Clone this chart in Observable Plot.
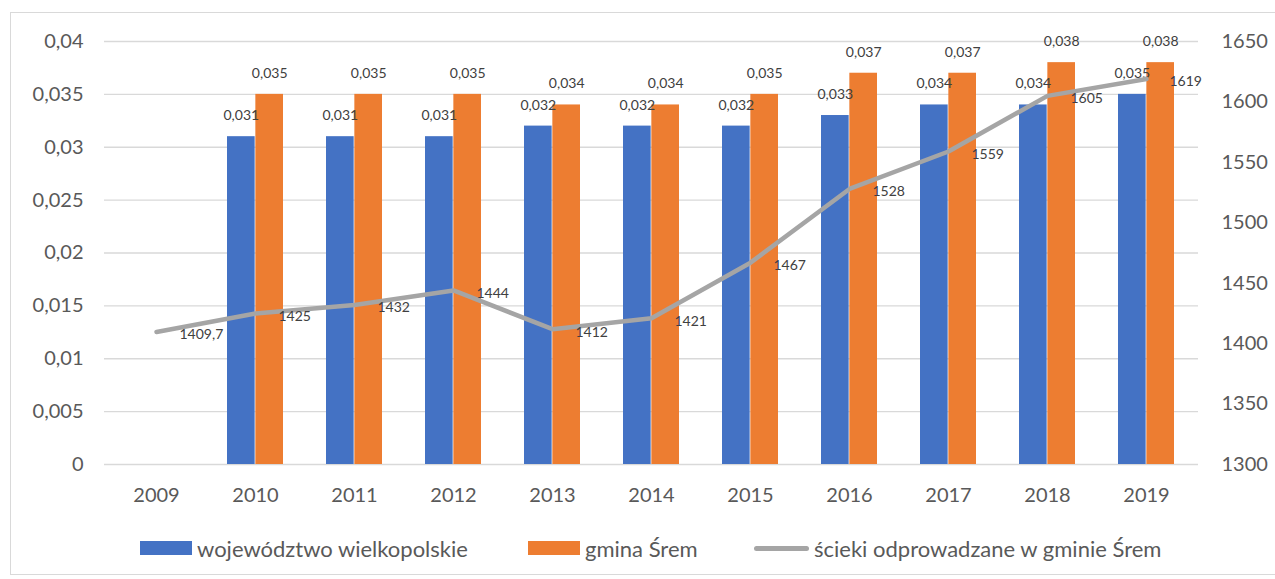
<!DOCTYPE html>
<html>
<head>
<meta charset="utf-8">
<script src="https://cdn.jsdelivr.net/npm/d3@7"></script>
<script src="https://cdn.jsdelivr.net/npm/@observablehq/plot@0.6"></script>
<style>
  html, body { margin: 0; padding: 0; background: #fff; }
  #wrap { position: relative; width: 1275px; height: 579px; overflow: hidden; font-family: Lato, "Open Sans", sans-serif; }
  #frame { position: absolute; left: 10px; top: 12px; width: 1270px; height: 563px; border: 1px solid #d9d9d9; box-sizing: border-box; }
  #chart { position: absolute; left: 0; top: 0; }
  .leg { position: absolute; top: 535px; height: 26px; display: flex; align-items: center; font-size: 22px; color: #595959; white-space: nowrap; }
  .sw { display: inline-block; margin-right: 5px; }
</style>
</head>
<body>
<div id="wrap">
  <div id="frame"></div>
  <div id="chart"></div>
  <div class="leg" style="left:140px"><span class="sw" style="width:52px;height:14px;background:#4472c4"></span>województwo wielkopolskie</div>
  <div class="leg" style="left:528px"><span class="sw" style="width:52px;height:14px;background:#ed7d31"></span>gmina Śrem</div>
  <div class="leg" style="left:754px"><span class="sw" style="width:55px;height:5px;border-radius:3px;background:#a5a5a5"></span>ścieki odprowadzane w gminie Śrem</div>
</div>
<script>
const years = ["2009","2010","2011","2012","2013","2014","2015","2016","2017","2018","2019"];
const wojewodztwo = [null, 0.031, 0.031, 0.031, 0.032, 0.032, 0.032, 0.033, 0.034, 0.034, 0.035];
const gminaSrem = [null, 0.035, 0.035, 0.035, 0.034, 0.034, 0.035, 0.037, 0.037, 0.038, 0.038];
const scieki = [1409.7, 1425, 1432, 1444, 1412, 1421, 1467, 1528, 1559, 1605, 1619];
const leftTicks = [0, 0.005, 0.01, 0.015, 0.02, 0.025, 0.03, 0.035, 0.04];
const rightTicks = [1300, 1350, 1400, 1450, 1500, 1550, 1600, 1650];

const leftDomain = [0, 0.04];
const rightDomain = [1300, 1650];
const toLeft = v => leftDomain[0] + (v - rightDomain[0]) / (rightDomain[1] - rightDomain[0]) * (leftDomain[1] - leftDomain[0]);
const fromLeft = v => rightDomain[0] + (v - leftDomain[0]) / (leftDomain[1] - leftDomain[0]) * (rightDomain[1] - rightDomain[0]);
const fmt = v => String(v).replace(".", ",");

const barsWoj = years.map((y, i) => ({year: y, value: wojewodztwo[i]})).filter(d => d.value != null);
const barsSrem = years.map((y, i) => ({year: y, value: gminaSrem[i]})).filter(d => d.value != null);
const lineData = years.map((y, i) => ({year: y, raw: scieki[i], value: toLeft(scieki[i])}));

const half = 99.45 * 0.57 / 2;

const chart = Plot.plot({
  width: 1275,
  height: 520,
  marginLeft: 104,
  marginRight: 77,
  marginTop: 41,
  marginBottom: 56,
  style: {fontFamily: "Lato, 'Open Sans', sans-serif", fontSize: "20px", color: "#595959", background: "transparent", overflow: "visible"},
  x: {domain: years, paddingInner: 0.43, paddingOuter: 0.215, label: null},
  y: {domain: leftDomain, label: null},
  marks: [
    Plot.gridY(leftTicks, {stroke: "#d9d9d9", strokeOpacity: 1, strokeWidth: 1.3}),
    Plot.axisY(leftTicks, {anchor: "left", tickSize: 0, tickPadding: 21, tickFormat: fmt, fontSize: 20, fill: "#595959", label: null}),
    Plot.axisY(rightTicks.map(toLeft), {anchor: "right", tickSize: 0, tickPadding: 23, tickFormat: d => String(Math.round(fromLeft(d))), fontSize: 20, fill: "#595959", label: null}),
    Plot.axisX({tickSize: 0, tickPadding: 23, fontSize: 20, fill: "#595959", label: null}),
    Plot.barY(barsWoj, {x: "year", y: "value", fill: "#4472c4", insetRight: half}),
    Plot.barY(barsSrem, {x: "year", y: "value", fill: "#ed7d31", insetLeft: half}),
    Plot.text(barsWoj, {x: "year", y: "value", text: d => fmt(d.value), dx: -half / 2, dy: -21, fontSize: 14, fill: "#404040"}),
    Plot.text(barsSrem, {x: "year", y: "value", text: d => fmt(d.value), dx: half / 2, dy: -21, fontSize: 14, fill: "#404040"}),
    Plot.line(lineData, {x: "year", y: "value", stroke: "#a5a5a5", strokeWidth: 4.5, strokeLinecap: "round", strokeLinejoin: "round"}),
    Plot.text(lineData, {x: "year", y: "value", text: d => fmt(d.raw), dx: 23, dy: 3, textAnchor: "start", fontSize: 14, fill: "#404040"})
  ]
});
document.getElementById("chart").appendChild(chart);
</script>
</body>
</html>
